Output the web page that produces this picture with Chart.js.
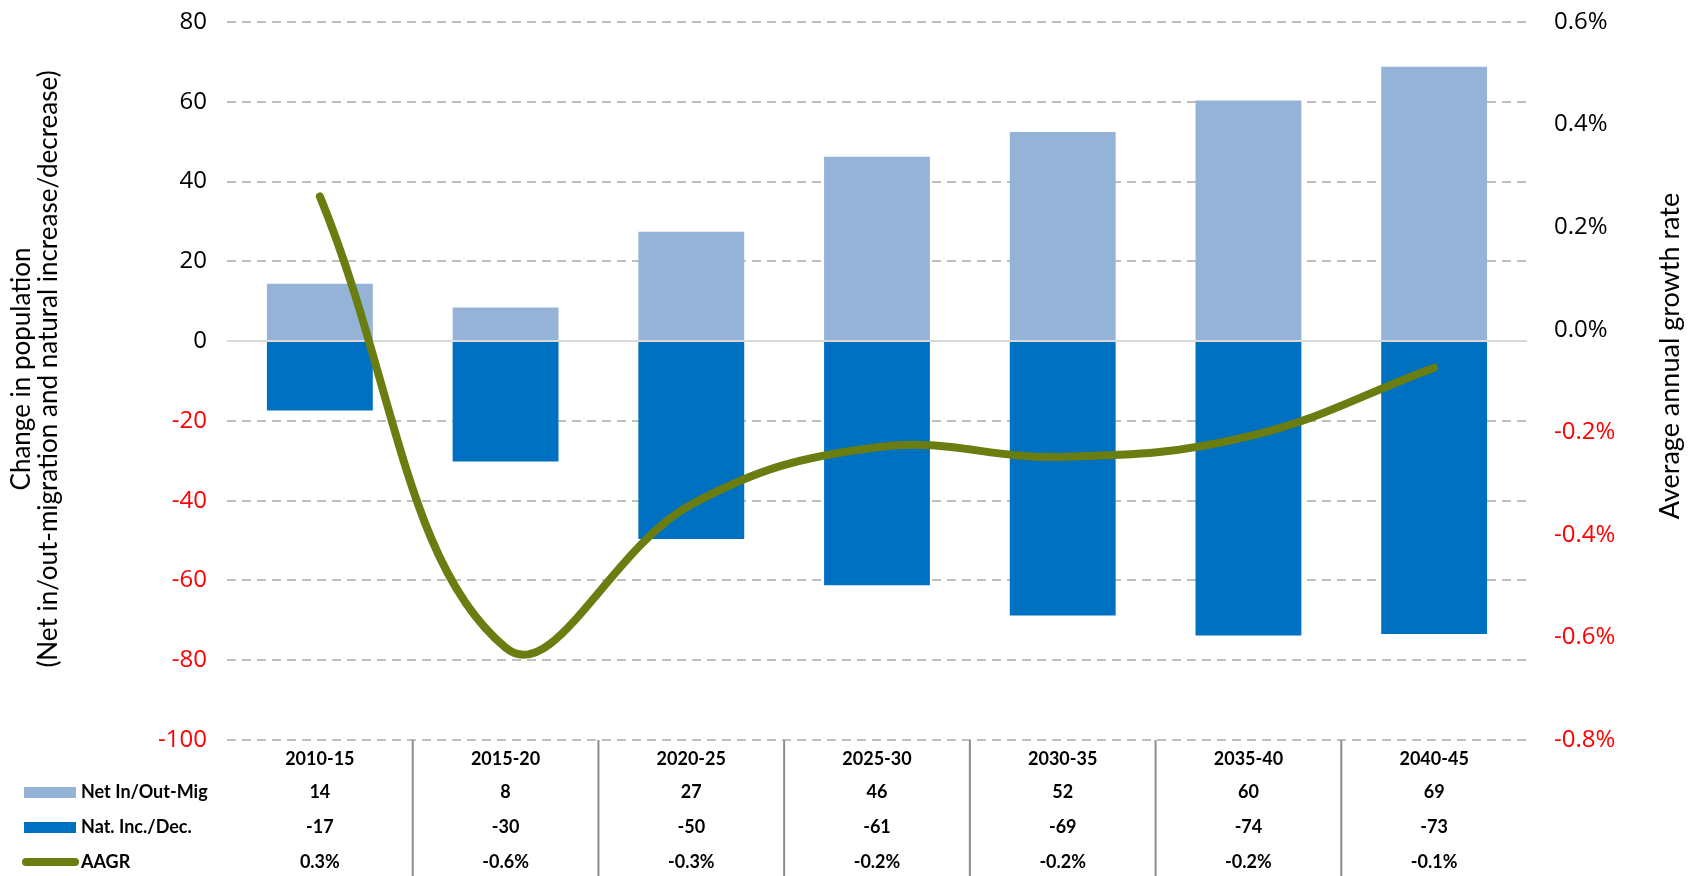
<!DOCTYPE html>
<html>
<head>
<meta charset="utf-8">
<script src="https://cdn.jsdelivr.net/npm/chart.js@4.4.1/dist/chart.umd.min.js"></script>
<style>
html, body { margin: 0; padding: 0; background: #fff; }
#wrap { width: 1692px; height: 876px; }
</style>
</head>
<body>
<div id="wrap"><canvas id="grafPop"></canvas></div>
<script>
// dados
const periodos = ['2010-15', '2015-20', '2020-25', '2025-30', '2030-35', '2035-40', '2040-45'];
const netMig = [14.4, 8.4, 27.4, 46.2, 52.4, 60.3, 68.8];
const natInc = [-17.4, -30.2, -49.6, -61.2, -68.8, -73.8, -73.4];
const aagr = [0.26, -0.62, -0.341, -0.229, -0.248, -0.208, -0.074];

const corClaro = '#95b3d7';
const corEscuro = '#0070c0';
const corLinha = '#6a7d10';
const fonteTick = "'Open Sans', sans-serif";
const fonteTab = "Lato, 'Open Sans', sans-serif";

// tabela de dados embaixo do grafico + titulos dos eixos
const tabelaPlugin = {
    id: 'tabela',
    afterDraw(chart) {
        const ctx = chart.ctx;
        const x = chart.scales.x;
        const area = chart.chartArea;
        ctx.save();
        ctx.strokeStyle = '#8c8c8c';
        ctx.lineWidth = 2;
        for (let i = 1; i < periodos.length; i++) {
            const xp = (x.getPixelForValue(i - 1) + x.getPixelForValue(i)) / 2;
            ctx.beginPath();
            ctx.moveTo(xp, area.bottom);
            ctx.lineTo(xp, chart.height);
            ctx.stroke();
        }
        const linhas = [
            { nome: 'Net In/Out-Mig', vals: netMig.map(v => String(Math.round(v))), tipo: 'caixa', cor: corClaro, y: 792 },
            { nome: 'Nat. Inc./Dec.', vals: natInc.map(v => String(Math.round(v))), tipo: 'caixa', cor: corEscuro, y: 827 },
            { nome: 'AAGR', vals: aagr.map(v => v.toFixed(1) + '%'), tipo: 'linha', cor: corLinha, y: 862 }
        ];
        ctx.font = "bold 18px " + fonteTab;
        ctx.textBaseline = 'middle';
        linhas.forEach(l => {
            if (l.tipo === 'caixa') {
                ctx.fillStyle = l.cor;
                ctx.fillRect(24, l.y - 5, 52, 11);
            } else {
                ctx.strokeStyle = l.cor;
                ctx.lineWidth = 8;
                ctx.lineCap = 'round';
                ctx.beginPath();
                ctx.moveTo(26, l.y);
                ctx.lineTo(75, l.y);
                ctx.stroke();
            }
            ctx.fillStyle = '#000';
            ctx.textAlign = 'left';
            ctx.fillText(l.nome, 81, l.y);
            ctx.textAlign = 'center';
            l.vals.forEach((v, i) => {
                ctx.fillText(v, x.getPixelForValue(i), l.y);
            });
        });

        // titulos dos eixos (ambos girados -90)
        ctx.fillStyle = '#000';
        ctx.textAlign = 'center';
        ctx.textBaseline = 'middle';
        ctx.font = "26px " + fonteTab;
        ctx.save();
        ctx.translate(22, 369);
        ctx.rotate(-Math.PI / 2);
        ctx.fillText('Change in population', 0, 0);
        ctx.restore();
        ctx.save();
        ctx.translate(49, 369);
        ctx.rotate(-Math.PI / 2);
        ctx.fillText('(Net in/out-migration and natural increase/decrease)', 0, 0);
        ctx.restore();
        ctx.font = "27px " + fonteTab;
        ctx.save();
        ctx.translate(1670, 356);
        ctx.rotate(-Math.PI / 2);
        ctx.fillText('Average annual growth rate', 0, 0);
        ctx.restore();
        ctx.restore();
    }
};

const dadosPop = {
    labels: periodos,
    datasets: [{
        type: 'line',
        label: 'AAGR',
        data: aagr,
        yAxisID: 'y1',
        borderColor: corLinha,
        borderWidth: 8,
        borderCapStyle: 'round',
        pointRadius: 0,
        tension: 0.4,
        fill: false,
        order: 0
    }, {
        type: 'bar',
        label: 'Net In/Out-Mig',
        data: netMig,
        backgroundColor: corClaro,
        stack: 's1',
        categoryPercentage: 1,
        barPercentage: 0.57,
        order: 1
    }, {
        type: 'bar',
        label: 'Nat. Inc./Dec.',
        data: natInc,
        backgroundColor: corEscuro,
        stack: 's1',
        categoryPercentage: 1,
        barPercentage: 0.57,
        order: 1
    }]
};

const configPop = {
    type: 'bar',
    data: dadosPop,
    plugins: [tabelaPlugin],
    options: {
        responsive: true,
        maintainAspectRatio: false,
        animation: false,
        layout: { padding: { top: 22, left: 10, right: 0, bottom: 0 } },
        plugins: {
            legend: { display: false },
            tooltip: { enabled: false }
        },
        scales: {
            x: {
                stacked: true,
                grid: { display: false },
                border: { display: false },
                ticks: {
                    color: '#000',
                    padding: 0,
                    font: { size: 18, weight: 'bold', family: fonteTab }
                },
                afterFit: s => { s.height = 136; }
            },
            y: {
                stacked: true,
                min: -100,
                max: 80,
                ticks: {
                    stepSize: 20,
                    padding: 0,
                    color: c => c.tick.value < 0 ? '#ff0000' : '#000',
                    font: { size: 24, family: fonteTick }
                },
                grid: {
                    color: c => c.tick.value === 0 ? '#d9d9d9' : '#bfbfbf',
                    lineWidth: 2,
                    drawTicks: true,
                    tickLength: 20,
                    tickColor: 'rgba(0,0,0,0)'
                },
                border: {
                    display: false,
                    dash: c => (c.tick && c.tick.value === 0) ? [] : [9, 6]
                },
                afterFit: s => { s.width = 217; }
            },
            y1: {
                position: 'right',
                min: -0.8,
                max: 0.6,
                ticks: {
                    stepSize: 0.2,
                    padding: 0,
                    color: c => c.tick.value < -1e-9 ? '#ff0000' : '#000',
                    font: { size: 24, family: fonteTick },
                    callback: v => (Math.abs(v) < 1e-9 ? 0 : v).toFixed(1) + '%'
                },
                grid: {
                    drawOnChartArea: false,
                    drawTicks: true,
                    tickLength: 27,
                    tickColor: 'rgba(0,0,0,0)'
                },
                border: { display: false },
                afterFit: s => { s.width = 165; }
            }
        }
    }
};

new Chart(document.getElementById('grafPop').getContext('2d'), configPop);
</script>
</body>
</html>
